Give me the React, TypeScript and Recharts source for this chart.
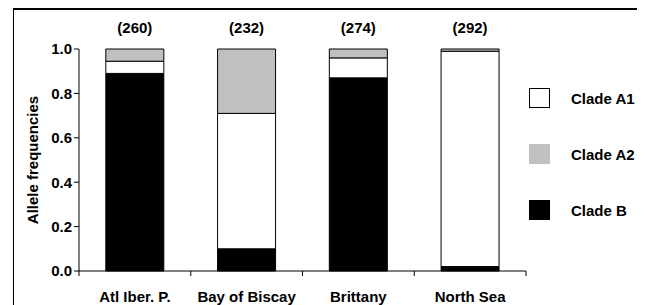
import { BarChart, Bar, XAxis, YAxis, LabelList } from 'recharts';

const regions = ['Atl Iber. P.', 'Bay of Biscay', 'Brittany', 'North Sea'];
const sampleSizes = [260, 232, 274, 292];
const cladeB = [0.89, 0.1, 0.87, 0.02];
const cladeA1 = [0.055, 0.61, 0.09, 0.97];
const cladeA2 = [0.055, 0.29, 0.04, 0.01];
const yTicks = [0, 0.2, 0.4, 0.6, 0.8, 1.0];

const legendItems = [
  { name: 'Clade A1', color: '#ffffff' },
  { name: 'Clade A2', color: '#c0c0c0' },
  { name: 'Clade B', color: '#000000' },
];

const data = regions.map((r, i) => ({
  region: r,
  n: `(${sampleSizes[i]})`,
  B: cladeB[i],
  A1: cladeA1[i],
  A2: cladeA2[i],
}));

const family = 'Liberation Sans, Arial, sans-serif';
const font = { fontFamily: family, fontWeight: 'bold' as const, fontSize: 15, fill: '#000' };

function XTick(props: any) {
  const { x, y, payload, index } = props;
  const half = payload.offset || 0;
  return (
    <g>
      {index === 0 && <line x1={x - half} x2={x - half} y1={y - 8} y2={y - 3} stroke="#000" />}
      <line x1={x + half} x2={x + half} y1={y - 8} y2={y - 3} stroke="#000" />
      <text x={x} y={y + 23} textAnchor="middle" style={font}>{payload.value}</text>
    </g>
  );
}

function LegendBox() {
  return (
    <div style={{ position: 'absolute', left: 521, top: 62 }}>
      {legendItems.map((it) => (
        <div key={it.name} style={{ display: 'flex', alignItems: 'center', height: 56 }}>
          <div style={{ width: 19, height: 18, background: it.color, border: it.color === '#ffffff' ? '1px solid #000' : '1px solid ' + it.color }} />
          <span style={{ marginLeft: 21, fontFamily: family, fontWeight: 'bold', fontSize: 15, color: '#000' }}>{it.name}</span>
        </div>
      ))}
    </div>
  );
}

export default function App() {
  return (
    <div style={{ position: 'relative', width: 637, height: 297 }}>
      <div style={{ position: 'absolute', left: 5, top: 0, right: 0, bottom: 0, borderTop: '2px solid #000', borderLeft: '1px solid #000' }} />
      <BarChart width={637} height={297} data={data} margin={{ top: 41, right: 119, bottom: 4, left: 31 }} barCategoryGap="24%">
        <XAxis dataKey="region" tickLine={false} axisLine={{ stroke: '#000' }} height={30} tick={<XTick />} interval={0} />
        <YAxis
          domain={[0, 1]}
          ticks={yTicks}
          tickFormatter={(v: number) => v.toFixed(1)}
          width={40}
          axisLine={{ stroke: '#000' }}
          tickLine={{ stroke: '#000' }}
          tickSize={5}
          tick={font}
          label={{ value: 'Allele frequencies', angle: -90, position: 'insideLeft', offset: -6, style: { ...font, textAnchor: 'middle' } }}
        />
        <Bar dataKey="B" stackId="s" fill="#000000" stroke="#000" strokeWidth={1} isAnimationActive={false} />
        <Bar dataKey="A1" stackId="s" fill="#ffffff" stroke="#000" strokeWidth={1} isAnimationActive={false} />
        <Bar dataKey="A2" stackId="s" fill="#c0c0c0" stroke="#000" strokeWidth={1} isAnimationActive={false}>
          <LabelList dataKey="n" position="top" offset={16} style={font} />
        </Bar>
      </BarChart>
      <LegendBox />
    </div>
  );
}
